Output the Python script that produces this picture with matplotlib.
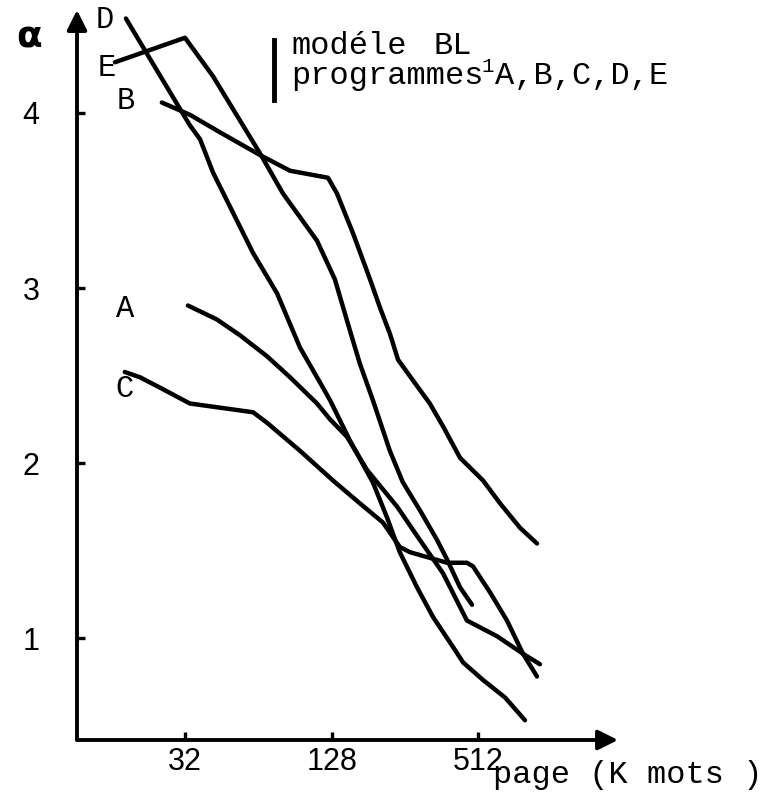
import matplotlib
matplotlib.use("Agg")
import matplotlib.pyplot as plt
from matplotlib.lines import Line2D
from matplotlib.ticker import NullLocator

# page size (K mots) and alpha for each program
A_x = [32.9, 43.3, 53.8, 69.5, 86.4, 111.5, 126, 148, 179, 238, 295, 367, 460, 612, 782, 918]
A_a = [2.90, 2.82, 2.73, 2.61, 2.49, 2.34, 2.25, 2.15, 1.96, 1.75, 1.56, 1.37, 1.10, 1.01, 0.91, 0.85]

B_x = [25.7, 33.5, 44.5, 65, 86.4, 123.7, 134.7, 157, 184, 202, 222, 240, 277, 324, 367, 431, 536, 629, 760, 893]
B_a = [4.06, 3.99, 3.89, 3.76, 3.67, 3.63, 3.54, 3.31, 3.05, 2.89, 2.74, 2.59, 2.47, 2.34, 2.21, 2.03, 1.90, 1.77, 1.63, 1.54]

C_x = [18.1, 20.9, 25.3, 33.5, 60.9, 69.5, 94.9, 129.7, 167, 208, 244, 269, 381, 460, 487, 573, 672, 782, 893]
C_a = [2.52, 2.49, 2.43, 2.34, 2.29, 2.23, 2.07, 1.90, 1.77, 1.66, 1.52, 1.49, 1.43, 1.43, 1.41, 1.26, 1.10, 0.91, 0.78]

D_x = [18.3, 22.3, 33.5, 36.9, 41.7, 50.4, 60.9, 76.4, 94.9, 118, 126, 152, 189, 216, 244, 287, 334, 403, 444, 536, 660, 797]
D_a = [4.54, 4.34, 3.93, 3.85, 3.66, 3.43, 3.20, 2.97, 2.66, 2.43, 2.36, 2.13, 1.89, 1.69, 1.49, 1.29, 1.12, 0.95, 0.86, 0.76, 0.66, 0.53]

E_x = [16.5, 32, 41.7, 65.0, 80.8, 111.5, 132, 152, 167, 189, 222, 251, 295, 347, 381, 431, 483]
E_a = [4.29, 4.43, 4.21, 3.77, 3.54, 3.27, 3.05, 2.76, 2.57, 2.36, 2.07, 1.89, 1.73, 1.56, 1.45, 1.29, 1.19]

x_ticks = [32, 128, 512]
y_ticks = [1, 2, 3, 4]

W, H = 769, 796
fig = plt.figure(figsize=(W / 100, H / 100), dpi=100)

def fx(px):
    return px / W

def fy(py):
    return 1 - py / H

mono = "Liberation Mono"
sans = "Liberation Sans"

###axes placed so that the ticks fall where the scan has them###
ax = fig.add_axes([fx(77), fy(740), fx(618) - fx(77), fy(10) - fy(740)])
ax.set_xscale("log", base=2)
ax.set_xlim(2 ** (5 + (77 - 185) / 73.3), 2 ** (5 + (618 - 185) / 73.3))
ax.set_ylim(4 - (740 - 113) / 175, 4 + (113 - 10) / 175)
for s in ax.spines.values():
    s.set_visible(False)

###axis arrows###
arw = dict(arrowstyle="-|>", lw=2.8, color="k", mutation_scale=30, shrinkA=0, shrinkB=0)
ax.annotate("", xy=(1, 0), xytext=(0, 0), xycoords="axes fraction", arrowprops=arw)
ax.annotate("", xy=(0, 1), xytext=(0, 0), xycoords="axes fraction", arrowprops=arw)

###ticks###
ax.set_xticks(x_ticks)
ax.set_xticklabels([str(v) for v in x_ticks])
ax.xaxis.set_minor_locator(NullLocator())
ax.set_yticks(y_ticks)
ax.set_yticklabels([str(v) for v in y_ticks])
ax.tick_params(direction="in", length=6, width=2.4, labelsize=22)
ax.tick_params(axis="y", pad=33)
ax.tick_params(axis="x", pad=5)
for lbl in ax.get_yticklabels() + ax.get_xticklabels():
    lbl.set_family(sans)
for lbl in ax.get_yticklabels():
    lbl.set_horizontalalignment("center")

###curves###
for xs, ys in [(A_x, A_a), (B_x, B_a), (C_x, C_a), (D_x, D_a), (E_x, E_a)]:
    ax.plot(xs, ys, color="k", lw=3.2, solid_capstyle="round", solid_joinstyle="round", clip_on=False)

###curve names###
for name, px, py in [("D", 105, 20), ("E", 107, 68), ("B", 126, 101), ("A", 125, 309), ("C", 125, 389)]:
    fig.text(fx(px), fy(py), name, family=mono, fontsize=22, ha="center", va="center")

###alpha label###
fig.text(fx(29), fy(38), "α", fontsize=27, fontweight="bold", ha="center", va="center")

###legend block###
fig.add_artist(Line2D([fx(274), fx(274)], [fy(40), fy(100)], lw=3.5, color="k"))
fig.text(fx(291), fy(54), "modéle", family=mono, fontsize=23, va="baseline")
fig.text(fx(434), fy(54), "BL", family=mono, fontsize=23, va="baseline")
fig.text(fx(488), fy(66), "1", family=mono, fontsize=15, ha="center", va="center")
fig.text(fx(291), fy(84), "programmes", family=mono, fontsize=23, va="baseline")
fig.text(fx(495), fy(84), "A,B,C,D,E", family=mono, fontsize=23, va="baseline")

###x axis label###
fig.text(fx(493), fy(783), "page (K mots )", family=mono, fontsize=23, va="baseline")

fig.savefig("out.png", dpi=100)
